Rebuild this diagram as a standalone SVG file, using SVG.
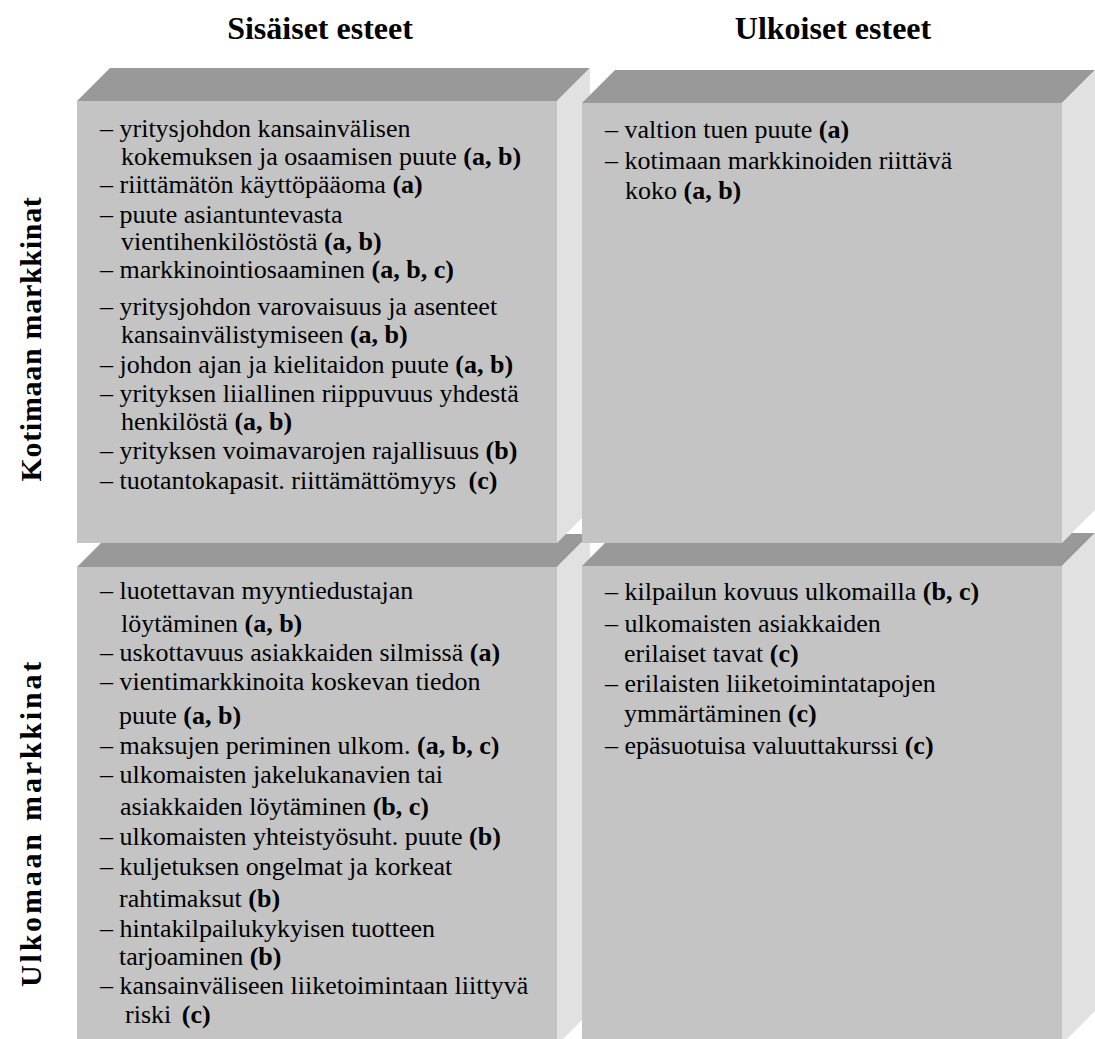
<svg xmlns="http://www.w3.org/2000/svg" width="1095" height="1039" viewBox="0 0 1095 1039">
  <style>
    .front { fill: #c4c4c4; }
    .top { fill: #999999; }
    .side { fill: #e1e1e1; }
    .b { font-weight: bold; }
  </style>
  <rect width="1095" height="1039" fill="#ffffff"/>

  <!-- column headings -->
  <g font-family="'Liberation Serif', 'Times New Roman', serif" font-weight="bold" font-size="32" fill="#000000" text-anchor="middle">
    <text x="320" y="39">Sisäiset esteet</text>
    <text x="833" y="39">Ulkoiset esteet</text>
  </g>

  <!-- row headings -->
  <g font-family="'Liberation Serif', 'Times New Roman', serif" font-weight="bold" font-size="30" fill="#000000" text-anchor="middle">
    <text transform="translate(41,339) rotate(-90)" letter-spacing="0.7">Kotimaan markkinat</text>
    <text transform="translate(41,823) rotate(-90)" letter-spacing="2.8">Ulkomaan markkinat</text>
  </g>

  <!-- blocks: drawn lower row first, then upper row, left before right -->
  <g id="block-foreign-internal">
    <polygon class="top" points="77,567 110,534 590,534 557,567"/>
    <polygon class="side" points="557,567 590,534 590,1012 557,1045"/>
    <rect class="front" x="77" y="567" width="480" height="478"/>
    <g font-family="'Liberation Serif', 'Times New Roman', serif" font-size="26" fill="#000000">
      <text x="100" y="599">– luotettavan myyntiedustajan</text>
      <text x="121" y="632">löytäminen <tspan class="b">(a, b)</tspan></text>
      <text x="100" y="661">– uskottavuus asiakkaiden silmissä <tspan class="b">(a)</tspan></text>
      <text x="100" y="690">– vientimarkkinoita koskevan tiedon</text>
      <text x="119" y="724">puute <tspan class="b">(a, b)</tspan></text>
      <text x="100" y="754">– maksujen periminen ulkom. <tspan class="b">(a, b, c)</tspan></text>
      <text x="100" y="783">– ulkomaisten jakelukanavien tai</text>
      <text x="120" y="815">asiakkaiden löytäminen <tspan class="b">(b, c)</tspan></text>
      <text x="100" y="845">– ulkomaisten yhteistyösuht. puute <tspan class="b">(b)</tspan></text>
      <text x="100" y="875">– kuljetuksen ongelmat ja korkeat</text>
      <text x="119" y="907">rahtimaksut <tspan class="b">(b)</tspan></text>
      <text x="100" y="937">– hintakilpailukykyisen tuotteen</text>
      <text x="119" y="965">tarjoaminen <tspan class="b">(b)</tspan></text>
      <text x="100" y="994">– kansainväliseen liiketoimintaan liittyvä</text>
      <text x="125" y="1023">riski <tspan class="b" dx="4">(c)</tspan></text>
    </g>
  </g>

  <g id="block-foreign-external">
    <polygon class="top" points="582,566 615,533 1095,533 1062,566"/>
    <polygon class="side" points="1062,566 1095,533 1095,1011 1062,1044"/>
    <rect class="front" x="582" y="566" width="480" height="478"/>
    <g font-family="'Liberation Serif', 'Times New Roman', serif" font-size="26" fill="#000000">
      <text x="605" y="600">– kilpailun kovuus ulkomailla <tspan class="b">(b, c)</tspan></text>
      <text x="605" y="632">– ulkomaisten asiakkaiden</text>
      <text x="624" y="662">erilaiset tavat <tspan class="b">(c)</tspan></text>
      <text x="605" y="692">– erilaisten liiketoimintatapojen</text>
      <text x="624" y="722">ymmärtäminen <tspan class="b">(c)</tspan></text>
      <text x="605" y="754">– epäsuotuisa valuuttakurssi <tspan class="b">(c)</tspan></text>
    </g>
  </g>

  <g id="block-domestic-internal">
    <polygon class="top" points="77,101 110,68 590,68 557,101"/>
    <polygon class="side" points="557,101 590,68 590,510 557,543"/>
    <rect class="front" x="77" y="101" width="480" height="442"/>
    <g font-family="'Liberation Serif', 'Times New Roman', serif" font-size="26" fill="#000000">
      <text x="100" y="137">– yritysjohdon kansainvälisen</text>
      <text x="121" y="165">kokemuksen ja osaamisen puute <tspan class="b">(a, b)</tspan></text>
      <text x="100" y="193">– riittämätön käyttöpääoma <tspan class="b">(a)</tspan></text>
      <text x="100" y="223">– puute asiantuntevasta</text>
      <text x="121" y="250">vientihenkilöstöstä <tspan class="b">(a, b)</tspan></text>
      <text x="100" y="278">– markkinointiosaaminen <tspan class="b">(a, b, c)</tspan></text>
      <text x="100" y="315">– yritysjohdon varovaisuus ja asenteet</text>
      <text x="121" y="343">kansainvälistymiseen <tspan class="b">(a, b)</tspan></text>
      <text x="100" y="373">– johdon ajan ja kielitaidon puute <tspan class="b">(a, b)</tspan></text>
      <text x="100" y="402">– yrityksen liiallinen riippuvuus yhdestä</text>
      <text x="121" y="430">henkilöstä <tspan class="b">(a, b)</tspan></text>
      <text x="100" y="459">– yrityksen voimavarojen rajallisuus <tspan class="b">(b)</tspan></text>
      <text x="100" y="489">– tuotantokapasit. riittämättömyys <tspan class="b" dx="6">(c)</tspan></text>
    </g>
  </g>

  <g id="block-domestic-external">
    <polygon class="top" points="582,103 615,70 1095,70 1062,103"/>
    <polygon class="side" points="1062,103 1095,70 1095,510 1062,543"/>
    <rect class="front" x="582" y="103" width="480" height="440"/>
    <g font-family="'Liberation Serif', 'Times New Roman', serif" font-size="26" fill="#000000">
      <text x="605" y="138">– valtion tuen puute <tspan class="b">(a)</tspan></text>
      <text x="605" y="169">– kotimaan markkinoiden riittävä</text>
      <text x="625" y="199">koko <tspan class="b">(a, b)</tspan></text>
    </g>
  </g>

  <!-- no connectors in this layout -->
  <g id="connectors"/>
</svg>
